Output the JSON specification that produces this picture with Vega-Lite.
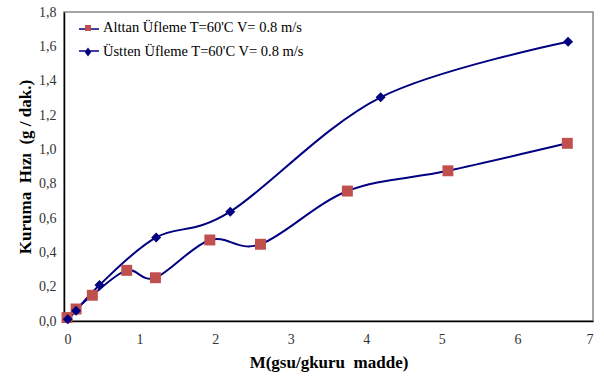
{
  "$schema": "https://vega.github.io/schema/vega-lite/v6.json",
  "width": 529,
  "height": 309,
  "autosize": {"type": "none"},
  "padding": {"left": 64, "top": 12, "right": 11, "bottom": 60},
  "background": "white",
  "config": {
    "view": {"stroke": "#888888", "strokeWidth": 1.5},
    "axis": {
      "labelFont": "Liberation Serif",
      "labelFontSize": 14,
      "labelColor": "#333333",
      "titleFont": "Liberation Serif",
      "titleFontSize": 17,
      "titleFontWeight": "bold",
      "titleColor": "#000000",
      "domainColor": "#000000",
      "domainWidth": 1.5,
      "ticks": false,
      "grid": false
    },
    "legend": {
      "title": null,
      "orient": "none",
      "padding": 0,
      "symbolSize": 400,
      "labelFont": "Liberation Serif",
      "labelFontSize": 14.5,
      "labelColor": "#000000",
      "labelLimit": 400,
      "labelOffset": 5,
      "rowPadding": 4
    }
  },
  "data": {
    "values": [
      {"seri": "Alttan Üfleme T=60'C V= 0.8 m/s", "M": 0.04, "H": 0.02},
      {"seri": "Alttan Üfleme T=60'C V= 0.8 m/s", "M": 0.16, "H": 0.07},
      {"seri": "Alttan Üfleme T=60'C V= 0.8 m/s", "M": 0.375, "H": 0.15},
      {"seri": "Alttan Üfleme T=60'C V= 0.8 m/s", "M": 0.83, "H": 0.295},
      {"seri": "Alttan Üfleme T=60'C V= 0.8 m/s", "M": 1.21, "H": 0.252},
      {"seri": "Alttan Üfleme T=60'C V= 0.8 m/s", "M": 1.93, "H": 0.472},
      {"seri": "Alttan Üfleme T=60'C V= 0.8 m/s", "M": 2.6, "H": 0.447},
      {"seri": "Alttan Üfleme T=60'C V= 0.8 m/s", "M": 3.75, "H": 0.757},
      {"seri": "Alttan Üfleme T=60'C V= 0.8 m/s", "M": 5.08, "H": 0.875},
      {"seri": "Alttan Üfleme T=60'C V= 0.8 m/s", "M": 6.66, "H": 1.035},
      {"seri": "Üstten Üfleme T=60'C V= 0.8 m/s", "M": 0.05, "H": 0.01},
      {"seri": "Üstten Üfleme T=60'C V= 0.8 m/s", "M": 0.16, "H": 0.06},
      {"seri": "Üstten Üfleme T=60'C V= 0.8 m/s", "M": 0.47, "H": 0.21},
      {"seri": "Üstten Üfleme T=60'C V= 0.8 m/s", "M": 1.22, "H": 0.487},
      {"seri": "Üstten Üfleme T=60'C V= 0.8 m/s", "M": 2.2, "H": 0.637},
      {"seri": "Üstten Üfleme T=60'C V= 0.8 m/s", "M": 4.19, "H": 1.303},
      {"seri": "Üstten Üfleme T=60'C V= 0.8 m/s", "M": 6.67, "H": 1.627}
    ]
  },
  "encoding": {
    "x": {
      "field": "M",
      "type": "quantitative",
      "scale": {"domain": [0, 7], "nice": false, "zero": false},
      "axis": {"values": [0, 1, 2, 3, 4, 5, 6, 7], "format": "d", "labelPadding": 11, "title": "M(gsu/gkuru\u00a0\u00a0madde)", "titlePadding": 8}
    },
    "y": {
      "field": "H",
      "type": "quantitative",
      "scale": {"domain": [0, 1.8], "nice": false},
      "axis": {"values": [0, 0.2, 0.4, 0.6, 0.8, 1.0, 1.2, 1.4, 1.6, 1.8], "format": ".1f", "labelExpr": "replace(datum.label, '.', ',')", "labelPadding": 8, "title": "Kuruma\u00a0\u00a0Hızı\u00a0\u00a0(g / dak.)", "titlePadding": 4}
    }
  },
  "layer": [
    {
      "mark": {"type": "line", "interpolate": "cardinal", "strokeWidth": 2},
      "encoding": {
        "stroke": {
          "field": "seri",
          "type": "nominal",
          "scale": {"domain": ["Alttan Üfleme T=60'C V= 0.8 m/s", "Üstten Üfleme T=60'C V= 0.8 m/s"], "range": ["#000080", "#000080"]},
          "legend": {"legendX": 14, "legendY": 6, "symbolType": "M-1,0H1", "symbolStrokeWidth": 1.5, "labelExpr": "''"}
        }
      }
    },
    {
      "transform": [{"filter": "datum.seri === \"Alttan Üfleme T=60'C V= 0.8 m/s\""}],
      "mark": {"type": "point", "filled": true, "opacity": 1, "shape": "square", "size": 120},
      "encoding": {
        "color": {
          "field": "seri",
          "type": "nominal",
          "scale": {"domain": ["Alttan Üfleme T=60'C V= 0.8 m/s"], "range": ["#C0504D"]},
          "legend": {"legendX": 14, "legendY": 6, "symbolType": "M-0.3,-0.3H0.3V0.3H-0.3Z", "symbolStrokeWidth": 0}
        }
      }
    },
    {
      "transform": [{"filter": "datum.seri !== \"Alttan Üfleme T=60'C V= 0.8 m/s\""}],
      "mark": {"type": "point", "filled": true, "opacity": 1, "shape": "diamond", "size": 100},
      "encoding": {
        "fill": {
          "field": "seri",
          "type": "nominal",
          "scale": {"domain": ["Üstten Üfleme T=60'C V= 0.8 m/s"], "range": ["#000080"]},
          "legend": {"legendX": 14, "legendY": 30, "symbolType": "M0,-0.45L0.33,0L0,0.45L-0.33,0Z", "symbolStrokeWidth": 0}
        }
      }
    }
  ]
}
